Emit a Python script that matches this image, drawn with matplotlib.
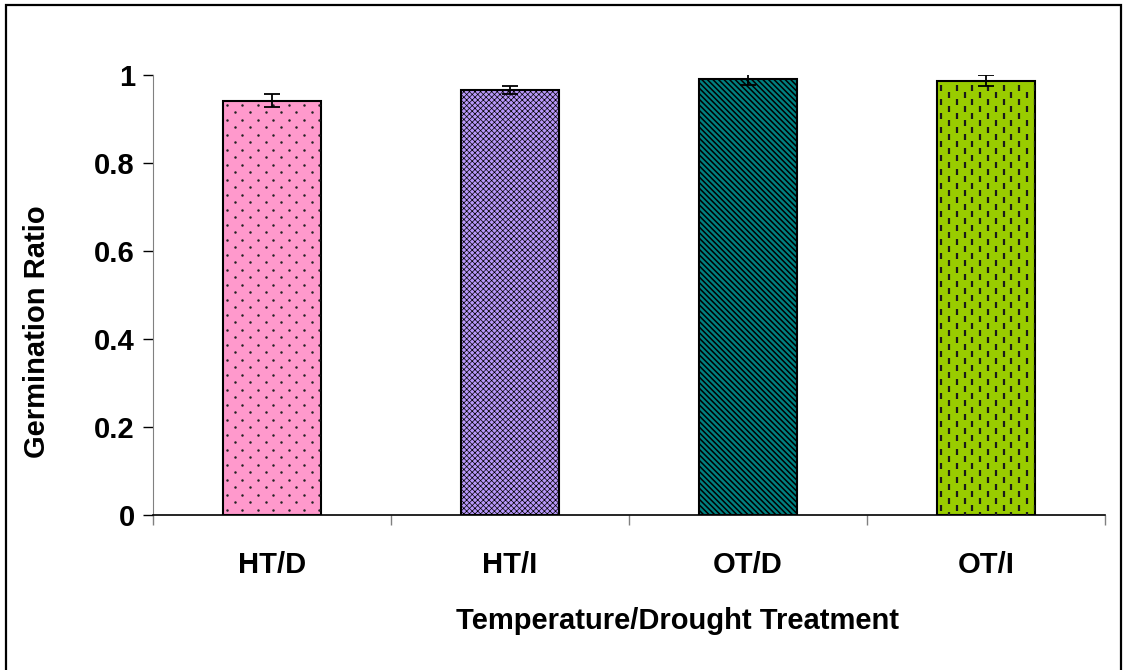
import matplotlib
matplotlib.use("Agg")
import matplotlib.pyplot as plt
import numpy as np
from matplotlib.collections import LineCollection
from matplotlib.patches import Rectangle

plt.rcParams["font.family"] = ["Liberation Sans", "DejaVu Sans"]
plt.rcParams["font.weight"] = "bold"
plt.rcParams["hatch.linewidth"] = 1.0

# data
treatments = ["HT/D", "HT/I", "OT/D", "OT/I"]
germ_ratio = [0.942, 0.966, 0.992, 0.987]
germ_err = [0.015, 0.010, 0.014, 0.012]
bar_colors = ["#FF99CC", "#B898FA", "#008080", "#99CC00"]

fig = plt.figure(figsize=(11.23, 6.70), dpi=100)
ax = fig.add_axes([153 / 1123, 1 - 515 / 670, 952 / 1123, 440 / 670])

x = np.arange(len(treatments))
ax.set_xlim(-0.5, len(treatments) - 0.5)
ax.set_ylim(0, 1)

bars = ax.bar(x, germ_ratio, width=0.41, color=bar_colors, edgecolor="black",
              linewidth=1.5, zorder=2)
bars[1].set_hatch("xxxxxx")
bars[2].set_hatch("\\" * 6)
if hasattr(bars[1], "set_hatch_linewidth"):
    bars[1].set_hatch_linewidth(0.5)
    bars[2].set_hatch_linewidth(1.1)

ax.errorbar(x, germ_ratio, yerr=germ_err, fmt="none", ecolor="black",
            elinewidth=1.3, capsize=5.5, capthick=1.3, zorder=5)


# ── textures Excel draws that matplotlib hatches don't have ────────────────
def texture_grid(bar, dx, dy):
    """pixel grid of staggered columns inside a bar, returned in pixels"""
    (x0, y0), (x1, y1) = ax.transData.transform(
        [(bar.get_x(), 0), (bar.get_x() + bar.get_width(), bar.get_height())])
    pts = []
    for i, cx in enumerate(np.arange(x0 + dx / 2, x1, dx)):
        off = 0 if i % 2 == 0 else dy / 2
        for cy in np.arange(y1 - 4 - off, y0 - dy, -dy):
            pts.append((cx, cy))
    return np.array(pts)


inv = ax.transData.inverted()

# dotted pink bar
pts = inv.transform(texture_grid(bars[0], 7.7, 15.0))
dots = ax.scatter(pts[:, 0], pts[:, 1], s=3.2, color="#222222", lw=0, zorder=3)
dots.set_clip_path(bars[0])

# dashed green bar
pix = texture_grid(bars[3], 7.8, 14.0)
segs = [inv.transform([(px, py), (px, py - 6)]) for px, py in pix]
dashes = LineCollection(segs, colors="#1a1a1a", linewidths=1.6, zorder=3)
ax.add_collection(dashes)
dashes.set_clip_path(bars[3])

# axes styling
for s in ["top", "right"]:
    ax.spines[s].set_visible(False)
ax.spines["left"].set_color("#808080")
ax.spines["bottom"].set_color("black")
ax.spines["bottom"].set_linewidth(1.2)

ax.set_yticks([0, 0.2, 0.4, 0.6, 0.8, 1.0])
ax.set_yticklabels(["0", "0.2", "0.4", "0.6", "0.8", "1"])
ax.tick_params(axis="y", length=7, width=1, color="black", labelsize=21, pad=6)

ax.set_xticks(np.arange(-0.5, len(treatments), 1.0))
ax.set_xticklabels([])
ax.tick_params(axis="x", which="major", length=7, width=1, color="#808080")
ax.set_xticks(x, minor=True)
ax.set_xticklabels(treatments, minor=True)
ax.tick_params(axis="x", which="minor", length=0, labelsize=21, pad=26)

fig.text(37 / 1123, 1 - 332 / 670, "Germination Ratio", rotation=90,
         ha="center", va="center", fontsize=21, fontweight="bold")
fig.text(677 / 1123, 1 - 621 / 670, "Temperature/Drought Treatment",
         ha="center", va="center", fontsize=21, fontweight="bold")

# chart frame
fig.patches.append(Rectangle((5.5 / 1123, -0.02), 1115.5 / 1123, 1.02 - 4.5 / 670,
                             transform=fig.transFigure, fill=False,
                             edgecolor="black", linewidth=1.6))

fig.savefig("out.png", dpi=100)
